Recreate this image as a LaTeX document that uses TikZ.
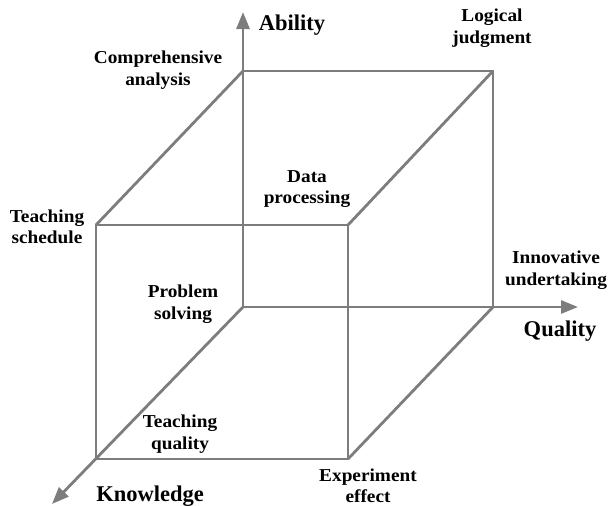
\documentclass[tikz,border=0pt]{standalone}
\usepackage{fontspec}
\setmainfont{Liberation Serif}
\newfontfamily\lblfont{Liberation Serif}[FakeStretch=1.06]
\usetikzlibrary{arrows.meta,positioning}
\definecolor{edgegray}{RGB}{125,125,125}
\tikzset{edge/.style={draw=edgegray, line width=2.8pt}}
\tikzstyle{axis}=[edge, -{Triangle[length=17pt,width=13pt]}]
\tikzstyle{lbl}=[align=center, inner sep=0pt, font=\lblfont\fontsize{18.2}{21.5}\selectfont\bfseries]
\tikzstyle{axlbl}=[inner sep=0pt, font=\fontsize{22.5}{26}\selectfont\bfseries]

\begin{document}
\begin{tikzpicture}[x=1pt, y=-1pt]
\useasboundingbox (0,0) rectangle (611,506);
% corners of the cube
\coordinate (O) at (243,307);
\coordinate (btl) at (243,71);
\coordinate (btr) at (493,71);
\coordinate (bbr) at (493,307);
\coordinate (ftl) at (96,225);
\coordinate (ftr) at (348,225);
\coordinate (fbl) at (96,459);
\coordinate (fbr) at (348,459);
% axis tips
\coordinate (abtip) at (243,12);
\coordinate (qutip) at (578,307);
\coordinate (kntip) at (52,504);

\draw[axis] (O) -- (abtip);
\draw[axis] (O) -- (qutip);
\draw[axis] (O) -- (kntip);
\draw[edge] (btl) -- (btr) -- (bbr);
\draw[edge] (ftl) -- (ftr) -- (fbr) -- (fbl) -- cycle;
\draw[edge] (ftl) -- (btl);
\draw[edge] (ftr) -- (btr);
\draw[edge] (fbr) -- (bbr);

\node[axlbl] (ability) at (292,25) {Ability};
\node[axlbl] (quality) at (560,331) {Quality};
\node[axlbl] (knowledge) at (150,496) {Knowledge};

\node[lbl] (comp) at (158,70) {Comprehensive\\analysis};
\node[lbl] (logic) at (492,28) {Logical\\judgment};
\node[lbl] (data) at (307,189) {Data\\processing};
\node[lbl] (sched) at (47,227) {Teaching\\schedule};
\node[lbl] (innov) at (556,270) {Innovative\\undertaking};
\node[lbl] (prob) at (183,304) {Problem\\solving};
\node[lbl] (tqual) at (180,434) {Teaching\\quality};
\node[lbl] (expe) at (368,486) {Experiment\\effect};
\end{tikzpicture}
\end{document}
